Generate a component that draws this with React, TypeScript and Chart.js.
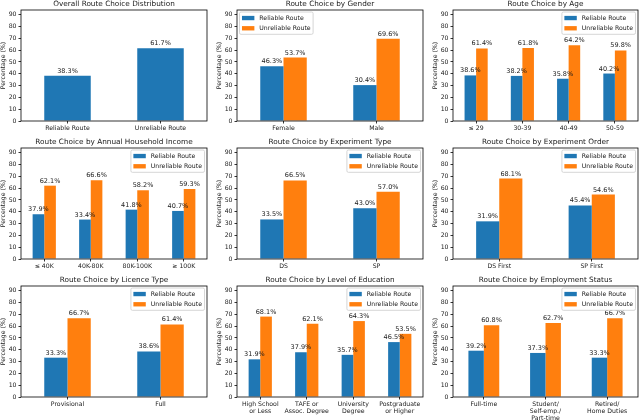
import React, { useEffect, useRef } from "react";
import { Chart, registerables } from "chart.js";
Chart.register(...registerables);

// ---------------- DATA ----------------
const seriesNames = ["Reliable Route", "Unreliable Route"];
const yTicks = [0, 10, 20, 30, 40, 50, 60, 70, 80, 90];
const yMax = 94;
const yLabel = "Percentage (%)";

const overallCategories = ["Reliable Route", "Unreliable Route"];
const overallValues = [38.3, 61.7];

const genderCategories = ["Female", "Male"];
const genderReliable = [46.3, 30.4];
const genderUnreliable = [53.7, 69.6];

const ageCategories = ["≤ 29", "30-39", "40-49", "50-59"];
const ageReliable = [38.6, 38.2, 35.8, 40.2];
const ageUnreliable = [61.4, 61.8, 64.2, 59.8];

const incomeCategories = ["≤ 40K", "40K-80K", "80K-100K", "≥ 100K"];
const incomeReliable = [37.9, 33.4, 41.8, 40.7];
const incomeUnreliable = [62.1, 66.6, 58.2, 59.3];

const expTypeCategories = ["DS", "SP"];
const expTypeReliable = [33.5, 43.0];
const expTypeUnreliable = [66.5, 57.0];

const expOrderCategories = ["DS First", "SP First"];
const expOrderReliable = [31.9, 45.4];
const expOrderUnreliable = [68.1, 54.6];

const licenceCategories = ["Provisional", "Full"];
const licenceReliable = [33.3, 38.6];
const licenceUnreliable = [66.7, 61.4];

const educationCategories = [
  ["High School", "or Less"],
  ["TAFE or", "Assoc. Degree"],
  ["University", "Degree"],
  ["Postgraduate", "or Higher"],
];
const educationReliable = [31.9, 37.9, 35.7, 46.5];
const educationUnreliable = [68.1, 62.1, 64.3, 53.5];

const employmentCategories = [
  "Full-time",
  ["Student/", "Self-emp./", "Part-time"],
  ["Retired/", "Home Duties"],
];
const employmentReliable = [39.2, 37.3, 33.3];
const employmentUnreliable = [60.8, 62.7, 66.7];

// ---------------- STYLE / LAYOUT ----------------
const FAMILY = "DejaVu Sans";
const BLUE = "#1f77b4";
const ORANGE = "#ff7f0e";
const TEXT = "#1a1a1a";
const COL_L = [21, 237, 453];
const COL_W = [186, 186, 185];
const ROW_T = [10, 148, 286];
const ROW_B = [121, 259, 397];
const Y_AXIS_W = 22;
const X_AXIS_H = 23;
const PAD_TOP = 10;
const PAD_RIGHT = 3;

type Series = { name: string; values: number[]; color: string };
type Spec = {
  title: string;
  labels: any[];
  series: Series[];
  legend: "left" | "right" | null;
  col: number;
  row: number;
};

const two = (r: number[], u: number[]): Series[] => [
  { name: seriesNames[0], values: r, color: BLUE },
  { name: seriesNames[1], values: u, color: ORANGE },
];

const specs: Spec[] = [
  { title: "Overall Route Choice Distribution", labels: overallCategories, series: [{ name: "Overall", values: overallValues, color: BLUE }], legend: null, col: 0, row: 0 },
  { title: "Route Choice by Gender", labels: genderCategories, series: two(genderReliable, genderUnreliable), legend: "left", col: 1, row: 0 },
  { title: "Route Choice by Age", labels: ageCategories, series: two(ageReliable, ageUnreliable), legend: "right", col: 2, row: 0 },
  { title: "Route Choice by Annual Household Income", labels: incomeCategories, series: two(incomeReliable, incomeUnreliable), legend: "right", col: 0, row: 1 },
  { title: "Route Choice by Experiment Type", labels: expTypeCategories, series: two(expTypeReliable, expTypeUnreliable), legend: "right", col: 1, row: 1 },
  { title: "Route Choice by Experiment Order", labels: expOrderCategories, series: two(expOrderReliable, expOrderUnreliable), legend: "right", col: 2, row: 1 },
  { title: "Route Choice by Licence Type", labels: licenceCategories, series: two(licenceReliable, licenceUnreliable), legend: "right", col: 0, row: 2 },
  { title: "Route Choice by Level of Education", labels: educationCategories, series: two(educationReliable, educationUnreliable), legend: "right", col: 1, row: 2 },
  { title: "Route Choice by Employment Status", labels: employmentCategories, series: two(employmentReliable, employmentUnreliable), legend: "right", col: 2, row: 2 },
];

const font = (s: number) => `${s}px "${FAMILY}"`;

function makePlugin(spec: Spec) {
  return {
    id: "panelDecor",
    afterDraw(chart: any) {
      const ctx: CanvasRenderingContext2D = chart.ctx;
      const a = chart.chartArea;
      ctx.save();
      // frame
      ctx.strokeStyle = "#000";
      ctx.lineWidth = 0.8;
      ctx.strokeRect(a.left, a.top, a.right - a.left, a.bottom - a.top);
      // title
      ctx.fillStyle = TEXT;
      ctx.font = font(7.3);
      ctx.textAlign = "center";
      ctx.textBaseline = "middle";
      ctx.fillText(spec.title, (a.left + a.right) / 2, a.top - 6);
      // y label
      ctx.save();
      ctx.translate(a.left - 18, (a.top + a.bottom) / 2);
      ctx.rotate(-Math.PI / 2);
      ctx.font = font(6.2);
      ctx.fillText(yLabel, 0, 0);
      ctx.restore();
      // value labels
      ctx.font = font(6.5);
      ctx.textAlign = "center";
      ctx.textBaseline = "alphabetic";
      chart.data.datasets.forEach((ds: any, i: number) => {
        const meta = chart.getDatasetMeta(i);
        meta.data.forEach((el: any, j: number) => {
          const v = ds.data[j] as number;
          ctx.fillText(v.toFixed(1) + "%", el.x, el.y - 3);
        });
      });
      // legend
      if (spec.legend) {
        const fs = 6.2;
        ctx.font = font(fs);
        const pad = 0.4 * fs;
        const hl = 2 * fs;
        const hh = 0.7 * fs;
        const tp = 0.8 * fs;
        const rowH = fs * 1.15;
        const ls = 0.5 * fs;
        const n = spec.series.length;
        const tw = Math.max(...spec.series.map((s) => ctx.measureText(s.name).width));
        const w = pad * 2 + hl + tp + tw;
        const h = pad * 2 + n * rowH + (n - 1) * ls;
        const x0 = spec.legend === "left" ? a.left + 2.5 : a.right - 2.5 - w;
        const y0 = a.top + 2;
        ctx.beginPath();
        const r = 1.5;
        ctx.moveTo(x0 + r, y0);
        ctx.lineTo(x0 + w - r, y0);
        ctx.arcTo(x0 + w, y0, x0 + w, y0 + r, r);
        ctx.lineTo(x0 + w, y0 + h - r);
        ctx.arcTo(x0 + w, y0 + h, x0 + w - r, y0 + h, r);
        ctx.lineTo(x0 + r, y0 + h);
        ctx.arcTo(x0, y0 + h, x0, y0 + h - r, r);
        ctx.lineTo(x0, y0 + r);
        ctx.arcTo(x0, y0, x0 + r, y0, r);
        ctx.closePath();
        ctx.fillStyle = "rgba(255,255,255,0.8)";
        ctx.fill();
        ctx.strokeStyle = "#cccccc";
        ctx.lineWidth = 0.8;
        ctx.stroke();
        spec.series.forEach((s, k) => {
          const cy = y0 + pad + rowH / 2 + k * (rowH + ls);
          ctx.fillStyle = s.color;
          ctx.fillRect(x0 + pad, cy - hh / 2, hl, hh);
          ctx.fillStyle = TEXT;
          ctx.textAlign = "left";
          ctx.textBaseline = "middle";
          ctx.fillText(s.name, x0 + pad + hl + tp, cy);
        });
      }
      ctx.restore();
    },
  };
}

function Panel({ spec }: { spec: Spec }) {
  const ref = useRef<HTMLCanvasElement | null>(null);
  const L = COL_L[spec.col];
  const W = COL_W[spec.col];
  const T = ROW_T[spec.row];
  const B = ROW_B[spec.row];
  const left = L - Y_AXIS_W;
  const top = T - PAD_TOP;
  const width = W + Y_AXIS_W + PAD_RIGHT;
  const height = B - T + PAD_TOP + X_AXIS_H;

  useEffect(() => {
    if (!ref.current) return;
    const tickGrid = {
      display: true,
      drawOnChartArea: false,
      drawTicks: true,
      tickLength: 2.5,
      tickWidth: 0.8,
      tickColor: "#000",
      offset: false,
    };
    const chart = new Chart(ref.current, {
      type: "bar",
      data: {
        labels: spec.labels,
        datasets: spec.series.map((s) => ({
          label: s.name,
          data: s.values,
          backgroundColor: s.color,
          borderWidth: 0,
          categoryPercentage: 0.5,
          barPercentage: 1,
        })),
      },
      options: {
        responsive: false,
        animation: false,
        devicePixelRatio: 1,
        layout: { padding: { top: PAD_TOP, right: PAD_RIGHT, left: 0, bottom: 0 } },
        plugins: {
          legend: { display: false },
          title: { display: false },
          tooltip: { enabled: false },
        },
        scales: {
          x: {
            type: "category",
            offset: true,
            grid: tickGrid,
            border: { display: false },
            ticks: {
              font: { family: FAMILY, size: 6.2, lineHeight: 1.12 },
              color: TEXT,
              padding: 1.5,
              maxRotation: 0,
              minRotation: 0,
              autoSkip: false,
            },
            afterFit: (s: any) => {
              s.height = X_AXIS_H;
            },
          },
          y: {
            type: "linear",
            min: 0,
            max: yMax,
            grid: tickGrid,
            border: { display: false },
            ticks: {
              font: { family: FAMILY, size: 6.2 },
              color: TEXT,
              padding: 2,
            },
            afterBuildTicks: (s: any) => {
              s.ticks = yTicks.map((v) => ({ value: v }));
            },
            afterFit: (s: any) => {
              s.width = Y_AXIS_W;
            },
          },
        },
      } as any,
      plugins: [makePlugin(spec)],
    });
    return () => chart.destroy();
  }, []);

  return (
    <canvas
      ref={ref}
      width={width}
      height={height}
      style={{ position: "absolute", left, top, width, height }}
    />
  );
}

export default function App() {
  return (
    <div
      style={{
        position: "absolute",
        left: 0,
        top: 0,
        width: 640,
        height: 420,
        overflow: "hidden",
        background: "#fff",
      }}
    >
      {specs.map((s, i) => (
        <Panel key={i} spec={s} />
      ))}
    </div>
  );
}
